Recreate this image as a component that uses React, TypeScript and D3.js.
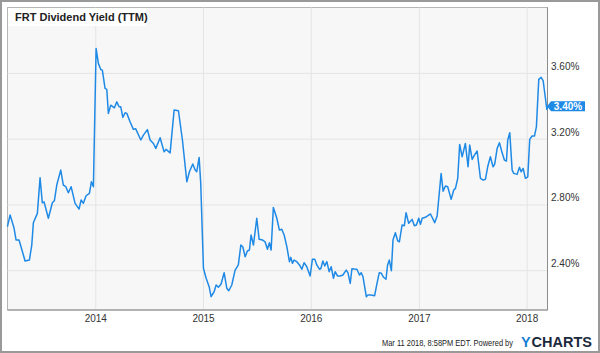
import React from 'react';
import * as d3 from 'd3';

const TITLE = 'FRT Dividend Yield (TTM)';
const FOOTER = 'Mar 11 2018, 8:58PM EDT.  Powered by';
const LOGO_A = 'Y';
const LOGO_B = 'CHARTS';
const LAST_LABEL = '3.40%';

// dates as decimal years
const dateYears: number[] = [
  2013.180, 2013.205, 2013.242, 2013.260, 2013.288, 2013.344, 2013.384, 2013.406, 2013.421, 2013.458,
  2013.483, 2013.504, 2013.520, 2013.560, 2013.597, 2013.616, 2013.638, 2013.675, 2013.699, 2013.722,
  2013.746, 2013.771, 2013.808, 2013.845, 2013.864, 2013.885, 2013.910, 2013.941, 2013.959, 2013.978,
  2014.003, 2014.024, 2014.046, 2014.061, 2014.086, 2014.102, 2014.117, 2014.139, 2014.173, 2014.195,
  2014.216, 2014.232, 2014.251, 2014.272, 2014.288, 2014.318, 2014.349, 2014.371, 2014.418, 2014.442,
  2014.479, 2014.504, 2014.535, 2014.557, 2014.597, 2014.634, 2014.652, 2014.690, 2014.727, 2014.767,
  2014.804, 2014.845, 2014.869, 2014.900, 2014.922, 2014.937, 2014.959, 2014.974, 2014.999, 2015.024,
  2015.052, 2015.070, 2015.098, 2015.117, 2015.138, 2015.163, 2015.191, 2015.216, 2015.234, 2015.262,
  2015.293, 2015.323, 2015.346, 2015.364, 2015.386, 2015.407, 2015.426, 2015.441, 2015.463, 2015.494,
  2015.516, 2015.546, 2015.571, 2015.593, 2015.611, 2015.627, 2015.648, 2015.680, 2015.704, 2015.726,
  2015.748, 2015.773, 2015.797, 2015.810, 2015.825, 2015.840, 2015.865, 2015.890, 2015.912, 2015.933,
  2015.958, 2015.989, 2016.010, 2016.032, 2016.051, 2016.075, 2016.088, 2016.107, 2016.125, 2016.144,
  2016.165, 2016.184, 2016.205, 2016.221, 2016.242, 2016.267, 2016.292, 2016.323, 2016.339, 2016.360,
  2016.376, 2016.397, 2016.422, 2016.446, 2016.462, 2016.478, 2016.509, 2016.524, 2016.552, 2016.586,
  2016.608, 2016.629, 2016.648, 2016.669, 2016.691, 2016.706, 2016.722, 2016.741, 2016.756, 2016.778,
  2016.799, 2016.815, 2016.840, 2016.861, 2016.877, 2016.901, 2016.933, 2016.954, 2016.973, 2016.994,
  2017.010, 2017.026, 2017.056, 2017.103, 2017.128, 2017.142, 2017.165, 2017.202, 2017.220, 2017.242,
  2017.263, 2017.295, 2017.319, 2017.335, 2017.356, 2017.374, 2017.397, 2017.427, 2017.452, 2017.467,
  2017.490, 2017.511, 2017.536, 2017.567, 2017.592, 2017.613, 2017.634, 2017.659, 2017.684, 2017.699,
  2017.722, 2017.743, 2017.768, 2017.789, 2017.808, 2017.820, 2017.839, 2017.861, 2017.876, 2017.907,
  2017.929, 2017.944, 2017.963, 2017.984, 2018.006, 2018.024, 2018.046, 2018.068, 2018.086, 2018.108,
  2018.130, 2018.149, 2018.164, 2018.183, 2018.191,
];

const yieldPct: number[] = [
  2.668, 2.739, 2.658, 2.587, 2.587, 2.459, 2.465, 2.556, 2.692, 2.749,
  2.965, 2.813, 2.819, 2.719, 2.813, 2.826, 2.921, 3.012, 2.921, 2.911,
  2.874, 2.911, 2.810, 2.775, 2.830, 2.810, 2.856, 2.871, 2.941, 2.911,
  3.752, 3.661, 3.624, 3.620, 3.509, 3.503, 3.357, 3.407, 3.391, 3.427,
  3.397, 3.397, 3.333, 3.361, 3.357, 3.306, 3.260, 3.263, 3.195, 3.225,
  3.258, 3.195, 3.174, 3.144, 3.209, 3.123, 3.138, 3.117, 3.377, 3.373,
  3.195, 2.941, 3.002, 3.049, 3.012, 3.002, 3.089, 2.931, 2.415, 2.354,
  2.303, 2.242, 2.272, 2.313, 2.299, 2.319, 2.388, 2.293, 2.278, 2.313,
  2.404, 2.435, 2.556, 2.546, 2.485, 2.520, 2.526, 2.617, 2.556, 2.719,
  2.591, 2.587, 2.576, 2.530, 2.570, 2.526, 2.785, 2.719, 2.647, 2.652,
  2.617, 2.546, 2.455, 2.481, 2.445, 2.465, 2.455, 2.435, 2.409, 2.449,
  2.424, 2.368, 2.469, 2.469, 2.435, 2.409, 2.412, 2.459, 2.429, 2.455,
  2.394, 2.424, 2.354, 2.394, 2.368, 2.368, 2.374, 2.404, 2.388, 2.323,
  2.412, 2.410, 2.409, 2.374, 2.388, 2.364, 2.242, 2.252, 2.252, 2.248,
  2.323, 2.388, 2.384, 2.360, 2.348, 2.435, 2.465, 2.400, 2.587, 2.631,
  2.582, 2.576, 2.678, 2.674, 2.753, 2.688, 2.712, 2.674, 2.678, 2.719,
  2.682, 2.719, 2.725, 2.745, 2.712, 2.692, 2.733, 2.992, 2.884, 2.915,
  2.911, 2.834, 2.891, 2.901, 2.962, 3.168, 3.093, 3.174, 3.032, 3.164,
  3.077, 3.103, 3.128, 2.962, 2.951, 2.956, 3.032, 3.093, 3.032, 3.049,
  3.144, 3.178, 3.117, 3.073, 3.067, 3.195, 3.239, 3.012, 2.992, 2.986,
  3.029, 3.002, 3.022, 2.962, 2.971, 3.199, 3.219, 3.219, 3.275, 3.564,
  3.576, 3.555, 3.478, 3.381, 3.400,
];

const yTicks: number[] = [2.4, 2.8, 3.2, 3.6];
const xTickYears: number[] = [2014, 2015, 2016, 2017, 2018];

function decToDate(t: number): Date {
  const y = Math.floor(t);
  const start = Date.UTC(y, 0, 1);
  const end = Date.UTC(y + 1, 0, 1);
  return new Date(start + (t - y) * (end - start));
}

const W = 600;
const H = 353;
const plot = { left: 7.5, top: 7.5, right: 547.5, bottom: 310 };
const LINE_BLUE = '#1f8ae6';
const FONT = 'Liberation Sans, Arial, Helvetica, sans-serif';

export default function App() {
  const x = d3
    .scaleUtc()
    .domain([new Date(Date.UTC(2013, 2, 8)), new Date(Date.UTC(2018, 2, 11))])
    .range([plot.left, plot.right]);
  const y = d3.scaleLinear().domain([2.161, 4.001]).range([plot.bottom, plot.top]);

  const data = dateYears.map((t, i) => ({ d: decToDate(t), v: yieldPct[i] }));
  const line = d3
    .line<{ d: Date; v: number }>()
    .x((p) => x(p.d))
    .y((p) => y(p.v));

  const last = data[data.length - 1];
  const ly = y(last.v);
  const lx = plot.right - 0.5;

  return (
    <svg
      width={W}
      height={H}
      style={{ position: 'absolute', left: 0, top: 0, display: 'block', background: '#fff' }}
      fontFamily={FONT}
    >
      <rect x={1} y={1} width={W - 2} height={H - 2} fill="#fff" stroke="#999" strokeWidth={2} />
      <rect
        x={plot.left}
        y={plot.top}
        width={plot.right - plot.left}
        height={plot.bottom - plot.top}
        fill="#f7f7f7"
        stroke="#b5b5b5"
        strokeWidth={1}
      />
      {yTicks.map((t) => (
        <line key={'gy' + t} x1={plot.left} x2={plot.right} y1={y(t)} y2={y(t)} stroke="#e4e4e4" strokeWidth={1} />
      ))}
      {xTickYears.map((yr) => {
        const xx = x(new Date(Date.UTC(yr, 0, 1)));
        return <line key={'gx' + yr} x1={xx} x2={xx} y1={plot.top} y2={plot.bottom} stroke="#e4e4e4" strokeWidth={1} />;
      })}
      <line x1={plot.right} x2={plot.right} y1={plot.top} y2={plot.bottom} stroke="#8c8c8c" strokeWidth={1} />
      <line x1={plot.left} x2={plot.right} y1={plot.bottom} y2={plot.bottom} stroke="#8c8c8c" strokeWidth={1} />

      <rect x={8} y={8} width={138} height={18} fill="#fff" />
      <text x={15} y={21} fontSize={11} fontWeight="bold" fill="#222">
        {TITLE}
      </text>

      <path d={line(data) || ''} fill="none" stroke={LINE_BLUE} strokeWidth={1.5} strokeLinejoin="round" />

      {yTicks.map((t) => (
        <text key={'ty' + t} x={551} y={y(t) - 3.5} fontSize={10} fill="#333">
          {t.toFixed(2) + '%'}
        </text>
      ))}
      {xTickYears.map((yr) => (
        <text key={'tx' + yr} x={x(new Date(Date.UTC(yr, 0, 1)))} y={322} fontSize={10} fill="#333" textAnchor="middle">
          {yr}
        </text>
      ))}

      <path
        d={`M${lx},${ly} L${lx + 4},${ly - 5} L${lx + 38},${ly - 5} L${lx + 38},${ly + 5} L${lx + 4},${ly + 5} Z`}
        fill={LINE_BLUE}
      />
      <text x={lx + 21} y={ly + 3.5} fontSize={10} fontWeight="bold" fill="#fff" textAnchor="middle">
        {LAST_LABEL}
      </text>

      <text transform="translate(382,346) scale(0.83,1)" fontSize={9} fill="#222">
        {FOOTER}
      </text>
      <text x={521} y={347} fontSize={14.5} fontWeight="bold" fill="#1a7fd4">
        {LOGO_A}
      </text>
      <text x={531.5} y={347} fontSize={14.5} fontWeight="bold" fill="#1b2a3c">
        {LOGO_B}
      </text>
    </svg>
  );
}
